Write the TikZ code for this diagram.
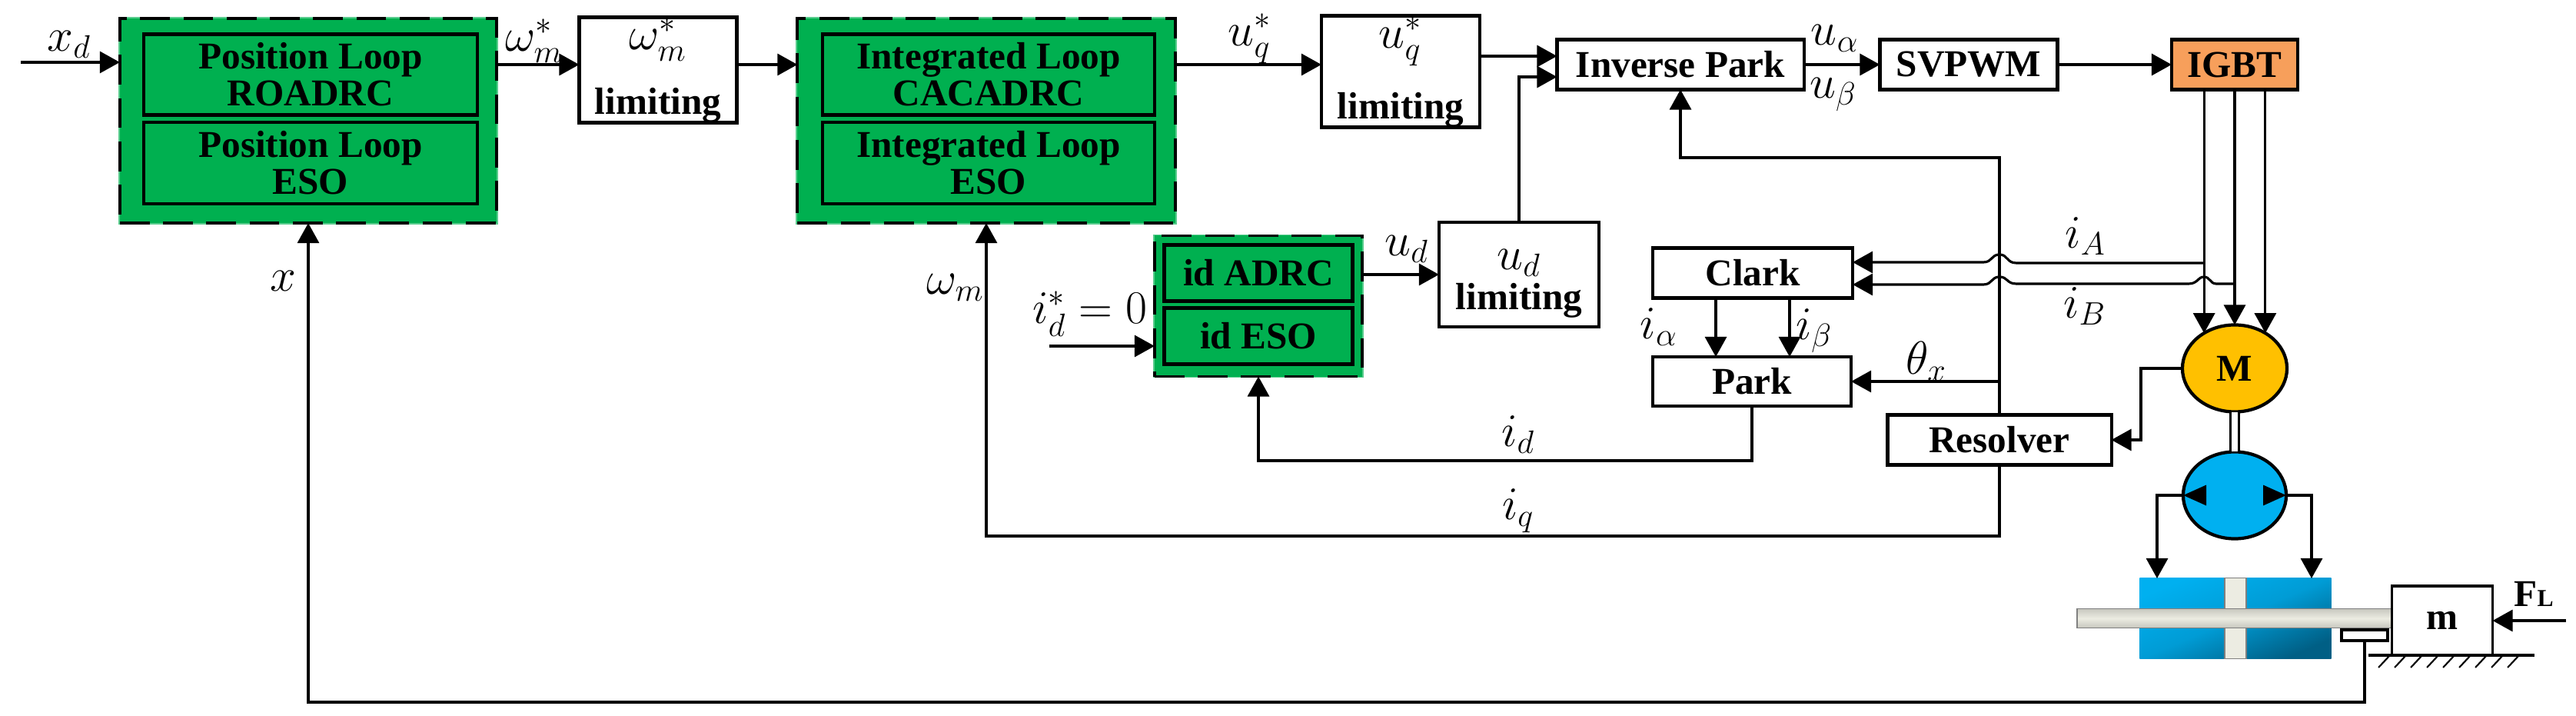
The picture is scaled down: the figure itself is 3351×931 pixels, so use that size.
\documentclass[tikz,border=0pt]{standalone}
\usepackage{amsmath}
\usepackage{fontspec}
\setmainfont{Liberation Serif}
\usetikzlibrary{arrows.meta,shapes.geometric}

\definecolor{boxgreen}{HTML}{00B050}
\definecolor{igbtorange}{HTML}{F79F5B}
\definecolor{motoryellow}{HTML}{FFC000}
\definecolor{pumpblue}{HTML}{00B0F0}
\definecolor{cyldark}{HTML}{005F85}
\definecolor{rodlight}{HTML}{ECECE2}
\definecolor{rodgray}{HTML}{C6C6BE}
\newcommand{\sigfont}{\fontsize{17}{17}\selectfont}

\begin{document}
\begin{tikzpicture}[
        x=0.01cm, y=-0.01cm,
        line width=.9pt,
        >={Triangle[length=.26cm,width=.28cm]},
        main node/.style={rectangle, draw, line width=1.2pt, fill=white, inner sep=0pt, outer sep=0pt, align=center,
            font=\fontsize{14}{13.7}\selectfont\bfseries},
        dash node/.style={rectangle, draw, line width=1.1pt, fill=boxgreen, inner sep=0pt, outer sep=0pt,
            preaction={draw=boxgreen!65!white, solid}, dash pattern=on 11pt off 5pt},
        green node/.style={main node, fill=boxgreen},
        round node/.style={ellipse, draw, line width=1.2pt, inner sep=0pt, outer sep=0pt,
            font=\fontsize{14}{14}\selectfont\bfseries},
        sig node/.style={inner sep=0pt, font=\sigfont},
        steel node/.style={rectangle, draw=gray, line width=.5pt, inner sep=0pt, outer sep=0pt},
    ]
    \useasboundingbox (0,0) rectangle (3351,931);

    % control blocks
    \node[dash node, minimum width=4.9cm, minimum height=2.66cm] (posbox) at (401,157) {};
    \node[green node, minimum width=4.33cm, minimum height=1.05cm] (posctl) at (404,97) {Position Loop\\ROADRC};
    \node[green node, minimum width=4.33cm, minimum height=1.06cm] (poseso) at (404,212) {Position Loop\\ESO};
    \node[dash node, minimum width=4.91cm, minimum height=2.66cm] (intbox) at (1283,157) {};
    \node[green node, minimum width=4.32cm, minimum height=1.05cm] (intctl) at (1286,97) {Integrated Loop\\CACADRC};
    \node[green node, minimum width=4.32cm, minimum height=1.06cm] (inteso) at (1286,212) {Integrated Loop\\ESO};
    \node[dash node, minimum width=2.7cm, minimum height=1.83cm] (idbox) at (1637,398) {};
    \node[green node, minimum width=2.45cm, minimum height=.73cm] (idctl) at (1637,355) {id ADRC};
    \node[green node, minimum width=2.45cm, minimum height=.73cm] (ideso) at (1637,437) {id ESO};

    \node[main node, minimum width=2.05cm, minimum height=1.36cm] (omlim) at (856,91) {{\sigfont$\omega_m^*$}\\[9pt]limiting};
    \node[main node, minimum width=2.06cm, minimum height=1.38cm] (uqlim) at (1822,93) {{\sigfont$u_q^*$}\\[9pt]limiting};
    \node[main node, minimum width=2.08cm, minimum height=1.36cm] (udlim) at (1976,357) {{\sigfont\rule{0pt}{14pt}$u_d$}\\[1pt]limiting};

    \node[main node, minimum width=3.21cm, minimum height=.65cm] (invpark) at (2186,84) {Inverse Park};
    \node[main node, minimum width=2.31cm, minimum height=.65cm] (svpwm) at (2561,84) {SVPWM};
    \node[main node, minimum width=1.64cm, minimum height=.65cm, fill=igbtorange] (igbt) at (2907,84) {IGBT};
    \node[main node, minimum width=2.6cm, minimum height=.65cm] (clark) at (2280,355) {Clark};
    \node[main node, minimum width=2.58cm, minimum height=.64cm] (park) at (2279,496) {Park};
    \node[main node, minimum width=2.91cm, minimum height=.65cm] (resolver) at (2601,572) {Resolver};

    % motor, pump, cylinder and load
    \node[round node, fill=motoryellow, minimum width=1.36cm, minimum height=1.13cm] (M) at (2907,479) {M};
    \node[round node, fill=pumpblue, minimum width=1.34cm, minimum height=1.13cm] (pump) at (2907,644) {};
    \node[rectangle, inner sep=0pt, outer sep=0pt, minimum width=2.49cm, minimum height=1.05cm,
        top color=pumpblue, bottom color=cyldark, middle color=pumpblue!75!cyldark, shading angle=23] (cyl) at (2908,804) {};
    \node[steel node, fill=rodlight, minimum width=.28cm, minimum height=1.05cm] (piston) at (2908,804) {};
    \node[steel node, top color=rodgray, bottom color=rodgray, middle color=rodlight, minimum width=4.1cm, minimum height=.25cm] (rod) at (2907,804) {};
    \node[main node, minimum width=.6cm, minimum height=.14cm] (sensor) at (3076,826) {};
    \node[main node, line width=.9pt, minimum width=1.31cm, minimum height=.9cm] (mass) at (3177,807) {m};

    \coordinate (rowA) at (0,84);
    \coordinate (rowB) at (0,73);
    \coordinate (rowC) at (0,100);
    \coordinate (xdIn) at (27,81);
    \coordinate (idIn) at (1365,450);
    \coordinate (flIn) at (3338,807);
    \coordinate (thetaTurn) at (2601,205);
    \coordinate (omegaTurn) at (1283,697);
    \coordinate (xTurn) at (401,913);
    \coordinate (idTurn) at (1637,599);
    \coordinate (resTurn) at (2785,572);
    \coordinate (iaDown) at (2232,0);
    \coordinate (ibDown) at (2328,0);
    \coordinate (cylL) at (2806,752);
    \coordinate (cylR) at (3007,752);
    \coordinate (pumpL) at (2870,644);
    \coordinate (pumpR) at (2944,644);
    \coordinate (groundL) at (3081,852);
    \coordinate (groundR) at (3297,852);

    % forward path
    \draw[->] (xdIn) -- (posbox.west |- xdIn);
    \draw[->] (posbox.east |- rowA) -- (omlim.west |- rowA);
    \draw[->] (omlim.east |- rowA) -- (intbox.west |- rowA);
    \draw[->] (intbox.east |- rowA) -- (uqlim.west |- rowA);
    \draw[->] (uqlim.east |- rowB) -- (invpark.west |- rowB);
    \draw[->] (udlim.north) |- (invpark.west |- rowC);
    \draw[->] (idbox.east |- udlim.west) -- (udlim.west);
    \draw[->] (idIn) -- (idbox.west |- idIn);
    \draw[->] (invpark.east) -- (svpwm.west);
    \draw[->] (svpwm.east) -- (igbt.west);

    % feedback
    \draw[->] (resolver.north) -- (thetaTurn) -| (invpark.south);
    \draw[->] (resolver.north |- park.east) -- (park.east);
    \draw[->] (resolver.south) |- (omegaTurn) -- (intbox.south);
    \draw[->] (park.south) |- (idTurn) -- (idbox.south);
    \draw[->] (sensor.south) |- (xTurn) -- (posbox.south);
    \draw[->] (clark.south -| iaDown) -- (park.north -| iaDown);
    \draw[->] (clark.south -| ibDown) -- (park.north -| ibDown);

    % phase currents with hops
    \draw[->] (M.131 |- igbt.south) -- (M.131);
    \draw[->] (M.north |- igbt.south) -- (M.north);
    \draw[->] (M.49 |- igbt.south) -- (M.49);
    \draw[->] (M.131 |- 0,342) -- (2623,342) .. controls (2610,342) and (2612,331) .. (2601,331)
        .. controls (2590,331) and (2592,341) .. (2580,341) -- (clark.east |- 0,341);
    \draw[->] (M.north |- 0,369) -- (2883,369) .. controls (2875,369) and (2875,360) .. (2867,360)
        .. controls (2859,360) and (2859,369) .. (2847,369) -- (2623,369)
        .. controls (2610,369) and (2612,360) .. (2601,360)
        .. controls (2590,360) and (2592,370) .. (2580,370) -- (clark.east |- 0,370);

    \draw[->] (M.west) -| (resTurn) -- (resolver.east);
    \draw[double, double distance=2.3pt] (M.south) -- (pump.north);
    \draw[-{Triangle[length=.3cm,width=.26cm]}] (pumpL) -- (pump.west);
    \draw[-{Triangle[length=.3cm,width=.26cm]}] (pumpR) -- (pump.east);
    \draw[->] (pump.west) -| (cylL);
    \draw[->] (pump.east) -| (cylR);
    \draw[->] (flIn) -- (mass.east);

    % ground
    \draw (groundL) -- (groundR);
    \foreach \i in {0,...,8}
        \draw[line width=.6pt] ({3094+21*\i},868) -- ++(15,-16);

    % signal labels
    \node[sig node] (xdL) at (90,58) {$x_d$};
    \node[sig node] (omL) at (695,53) {$\omega_m^*$};
    \node[sig node] (uqL) at (1626,50) {$u_q^*$};
    \node[sig node] (uaL) at (2387,50) {$u_\alpha$};
    \node[sig node] (ubL) at (2385,123) {$u_\beta$};
    \node[sig node] (udL) at (1830,324) {$u_d$};
    \node[sig node] (idzL) at (1418,408) {$i_d^*=0$};
    \node[sig node] (wmL) at (1243,374) {$\omega_m$};
    \node[sig node] (xL) at (368,365) {$x$};
    \node[sig node] (iAL) at (2713,307) {$i_A$};
    \node[sig node] (iBL) at (2712,398) {$i_B$};
    \node[sig node] (iaL) at (2158,425) {$i_\alpha$};
    \node[sig node] (ibL) at (2360,430) {$i_\beta$};
    \node[sig node] (thL) at (2506,470) {$\theta_x$};
    \node[sig node] (idL) at (1975,565) {$i_d$};
    \node[sig node] (iqL) at (1975,664) {$i_q$};
    \node[inner sep=0pt, font=\fontsize{14}{14}\selectfont\bfseries] (flL) at (3296,772) {F{\fontsize{9}{9}\selectfont L}};
\end{tikzpicture}
\end{document}
